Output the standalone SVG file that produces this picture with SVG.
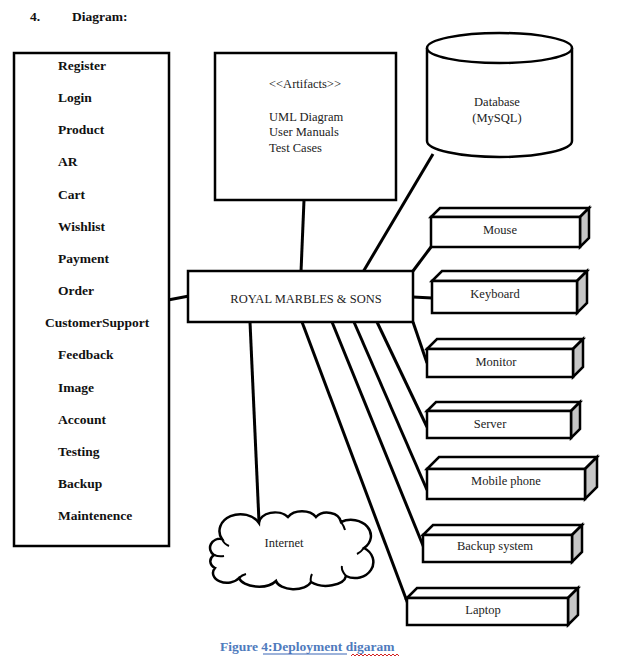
<svg xmlns="http://www.w3.org/2000/svg" width="631" height="665" viewBox="0 0 631 665">
  <style>
    .box { fill: #fff; stroke: #000; stroke-width: 2.5; }
    .side { fill: #c6c6c6; stroke: #000; stroke-width: 2.5; stroke-linejoin: miter; }
    .link { stroke: #000; stroke-width: 3; fill: none; stroke-linecap: butt; }
    .lbl { font-family: "Liberation Serif", "Times New Roman", serif; font-size: 12.5px; fill: #222; }
    .mid { text-anchor: middle; }
    .bold { font-family: "Liberation Serif", "Times New Roman", serif; font-size: 13.5px; font-weight: bold; fill: #111; }
  </style>

  <rect width="631" height="665" fill="#fff"/>

  <!-- section heading -->
  <g id="heading">
    <text class="bold" x="30" y="21">4.</text>
    <text class="bold" x="72" y="21">Diagram:</text>
  </g>

  <!-- connectors -->
  <g id="connectors">
    <line class="link" x1="168" y1="300" x2="189" y2="296"/>
    <line class="link" x1="304" y1="200" x2="301" y2="272"/>
    <line class="link" x1="433" y1="154" x2="363" y2="272"/>
    <line class="link" x1="413" y1="271" x2="431" y2="247"/>
    <line class="link" x1="413" y1="297" x2="432" y2="298"/>
    <line class="link" x1="413" y1="322" x2="427" y2="363"/>
    <line class="link" x1="377" y1="322" x2="427" y2="427"/>
    <line class="link" x1="354" y1="322" x2="427" y2="490"/>
    <line class="link" x1="332" y1="322" x2="424" y2="548"/>
    <line class="link" x1="302" y1="322" x2="408" y2="604"/>
    <line class="link" x1="250" y1="322" x2="259" y2="522"/>
  </g>

  <!-- component list -->
  <g id="modules">
    <rect class="box" x="14" y="53" width="155" height="493"/>
    <text class="bold" x="58" y="70">Register</text>
    <text class="bold" x="58" y="102">Login</text>
    <text class="bold" x="58" y="134">Product</text>
    <text class="bold" x="58" y="166">AR</text>
    <text class="bold" x="58" y="199">Cart</text>
    <text class="bold" x="58" y="231">Wishlist</text>
    <text class="bold" x="58" y="263">Payment</text>
    <text class="bold" x="58" y="295">Order</text>
    <text class="bold" x="45" y="327">CustomerSupport</text>
    <text class="bold" x="58" y="359">Feedback</text>
    <text class="bold" x="58" y="392">Image</text>
    <text class="bold" x="58" y="424">Account</text>
    <text class="bold" x="58" y="456">Testing</text>
    <text class="bold" x="58" y="488">Backup</text>
    <text class="bold" x="58" y="520">Maintenence</text>
  </g>

  <!-- artifacts -->
  <g id="artifacts">
    <rect class="box" x="215" y="53" width="181" height="147"/>
    <text class="lbl" x="269" y="88">&lt;&lt;Artifacts&gt;&gt;</text>
    <text class="lbl" x="269" y="121">UML Diagram</text>
    <text class="lbl" x="269" y="136">User Manuals</text>
    <text class="lbl" x="269" y="152">Test Cases</text>
  </g>

  <!-- database -->
  <g id="database">
    <path class="box" d="M427,48 L427,141 A72.5,16 0 0 0 572,141 L572,48"/>
    <ellipse class="box" cx="499.5" cy="48" rx="72.5" ry="15"/>
    <text class="lbl mid" x="497" y="106">Database</text>
    <text class="lbl mid" x="497" y="122">(MySQL)</text>
  </g>

  <!-- central system -->
  <g id="system">
    <rect class="box" x="188" y="271" width="225" height="51"/>
    <text class="lbl mid" x="306" y="303">ROYAL MARBLES &amp; SONS</text>
  </g>

  <!-- devices -->
  <g id="mouse">
    <path class="box" d="M431,217 L440,208 L589,208 L580,217 Z"/>
    <path class="side" d="M580,217 L589,208 L589,238 L580,247 Z"/>
    <rect class="box" x="431" y="217" width="149" height="30"/>
    <text class="lbl mid" x="500" y="234">Mouse</text>
  </g>
  <g id="keyboard">
    <path class="box" d="M432,281 L442,271 L587,271 L577,281 Z"/>
    <path class="side" d="M577,281 L587,271 L587,303 L577,313 Z"/>
    <rect class="box" x="432" y="281" width="145" height="32"/>
    <text class="lbl mid" x="495" y="298">Keyboard</text>
  </g>
  <g id="monitor">
    <path class="box" d="M427,349 L437,339 L583,339 L573,349 Z"/>
    <path class="side" d="M573,349 L583,339 L583,367 L573,377 Z"/>
    <rect class="box" x="427" y="349" width="146" height="28"/>
    <text class="lbl mid" x="496" y="366">Monitor</text>
  </g>
  <g id="server">
    <path class="box" d="M427,411 L436,402 L580,402 L571,411 Z"/>
    <path class="side" d="M571,411 L580,402 L580,429 L571,438 Z"/>
    <rect class="box" x="427" y="411" width="144" height="27"/>
    <text class="lbl mid" x="490" y="428">Server</text>
  </g>
  <g id="mobile">
    <path class="box" d="M427,469 L439,457 L597,457 L585,469 Z"/>
    <path class="side" d="M585,469 L597,457 L597,487 L585,499 Z"/>
    <rect class="box" x="427" y="469" width="158" height="30"/>
    <text class="lbl mid" x="506" y="485">Mobile phone</text>
  </g>
  <g id="backup">
    <path class="box" d="M423,535 L433,525 L582,525 L572,535 Z"/>
    <path class="side" d="M572,535 L582,525 L582,552 L572,562 Z"/>
    <rect class="box" x="423" y="535" width="149" height="27"/>
    <text class="lbl mid" x="495" y="550">Backup system</text>
  </g>
  <g id="laptop">
    <path class="box" d="M407,598 L417,588 L578,588 L568,598 Z"/>
    <path class="side" d="M568,598 L578,588 L578,615 L568,625 Z"/>
    <rect class="box" x="407" y="598" width="161" height="27"/>
    <text class="lbl mid" x="483" y="614">Laptop</text>
  </g>

  <!-- internet cloud -->
  <g id="internet">
    <path class="box" d="M222,539
      A20,16 0 0 1 259,523
      A16,11 0 0 1 288,517
      A16,11 0 0 1 316,517
      A14,11 0 0 1 341,522
      A20,16 0 0 1 364,548
      A16,14 0 0 1 346,576
      A20,11 0 0 1 311,582
      A18,10 0 0 1 276,581
      A20,11 0 0 1 239,578
      A13,9 0 0 1 215,568
      A10,8 0 0 1 214,555
      A10,9 0 0 1 222,539 Z"/>
    <path d="M222,539 Q224,544 229,546 M214,555 Q219,557 224,556 M341,522 Q344,526 345,530 M364,548 Q361,552 357,554 M346,576 Q341,570 342,566 M311,582 Q310,578 312,574 M239,578 Q242,575 246,574" fill="none" stroke="#000" stroke-width="2"/>
    <text class="lbl mid" x="284" y="547">Internet</text>
  </g>

  <!-- caption -->
  <g id="caption">
    <text x="220" y="651" font-family="Liberation Serif, Times New Roman, serif" font-size="13.5" font-weight="bold" fill="#4f7bbd">Figure 4:Deployment digaram</text>
    <line x1="263" y1="654" x2="347" y2="654" stroke="#3a66b5" stroke-width="1.2"/>
    <path d="M351,656 l2,-2 l2,2 l2,-2 l2,2 l2,-2 l2,2 l2,-2 l2,2 l2,-2 l2,2 l2,-2 l2,2 l2,-2 l2,2 l2,-2 l2,2 l2,-2 l2,2 l2,-2 l2,2 l2,-2 l2,2 l2,-2 l2,2" fill="none" stroke="#d42020" stroke-width="1"/>
  </g>
</svg>
